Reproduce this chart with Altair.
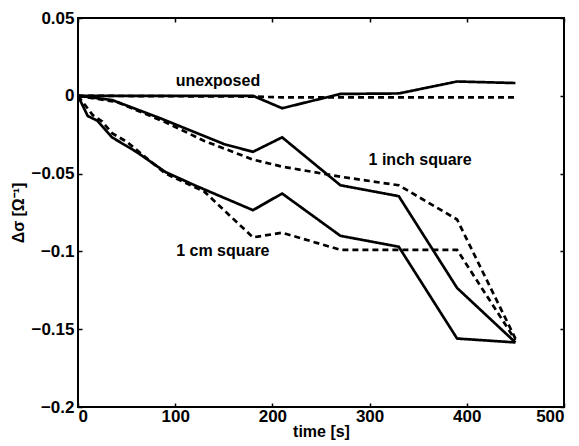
import altair as alt
import pandas as pd

# ---- data ----
t_unexp_solid = [0, 180, 210, 270, 330, 390, 450]
v_unexp_solid = [0.0, 0.0, -0.008, 0.0012, 0.0015, 0.0092, 0.0082]

t_unexp_dash = [0, 180, 210, 270, 330, 390, 450]
v_unexp_dash = [0.0, -0.0005, -0.001, -0.001, -0.001, -0.001, -0.001]

t_inch_solid = [0, 35, 85, 150, 180, 210, 270, 330, 390, 450]
v_inch_solid = [0.0, -0.0027, -0.0145, -0.031, -0.036, -0.0267, -0.0575, -0.0645, -0.1235, -0.1585]

t_inch_dash = [0, 40, 90, 130, 180, 210, 270, 330, 390, 450]
v_inch_dash = [0.0, -0.004, -0.017, -0.029, -0.041, -0.0455, -0.052, -0.0575, -0.0795, -0.1560]

t_cm_solid = [0, 10, 20, 35, 60, 90, 120, 180, 210, 270, 330, 390, 450]
v_cm_solid = [0.0, -0.013, -0.016, -0.0267, -0.036, -0.049, -0.0575, -0.0735, -0.0628, -0.090, -0.097, -0.156, -0.1585]

t_cm_dash = [0, 15, 25, 35, 50, 90, 130, 180, 210, 270, 330, 390, 450]
v_cm_dash = [0.0, -0.0123, -0.0166, -0.024, -0.0295, -0.050, -0.0616, -0.091, -0.088, -0.099, -0.099, -0.099, -0.157]

label_text = ["unexposed", "1 inch square", "1 cm square"]
label_t = [144, 352, 149]
label_v = [0.0092, -0.0413, -0.0995]

x_ticks = [0, 100, 200, 300, 400, 500]
y_ticks = [0.05, 0, -0.05, -0.1, -0.15, -0.2]

# ---- build table ----
series = [
    ("unexposed solid", "solid", t_unexp_solid, v_unexp_solid),
    ("unexposed dashed", "dashed", t_unexp_dash, v_unexp_dash),
    ("inch solid", "solid", t_inch_solid, v_inch_solid),
    ("inch dashed", "dashed", t_inch_dash, v_inch_dash),
    ("cm solid", "solid", t_cm_solid, v_cm_solid),
    ("cm dashed", "dashed", t_cm_dash, v_cm_dash),
]
rows = []
for name, style, ts, vs in series:
    for i, (t, v) in enumerate(zip(ts, vs)):
        rows.append({"series": name, "style": style, "t": t, "v": v, "idx": i})
df = pd.DataFrame(rows)
labels_df = pd.DataFrame({"label": label_text, "t": label_t, "v": label_v})

FONT = "Liberation Sans"
xscale = alt.Scale(domain=[0, 500], nice=False, zero=False)
yscale = alt.Scale(domain=[-0.2, 0.05], nice=False, zero=False)

TICK = 4
tick_common = dict(
    offset=-TICK, tickSize=TICK, tickWidth=1.5, tickColor="black", domain=False, grid=False,
    zindex=1,
    labelFont=FONT, labelFontSize=17, labelFontWeight="bold", labelColor="black",
    titleFont=FONT, titleFontSize=16, titleFontWeight="bold", titleColor="black",
)

lines = alt.Chart(df).mark_line(color="black", strokeWidth=2.7).encode(
    x=alt.X("t:Q", scale=xscale,
            axis=alt.Axis(orient="bottom", values=x_ticks, format="d", title="time [s]",
                          labelPadding=1, titlePadding=-1, **tick_common)),
    y=alt.Y("v:Q", scale=yscale,
            axis=alt.Axis(orient="left", values=y_ticks, format="~g", title="Δσ [Ω⁻¹]",
                          labelPadding=4, titlePadding=4, **tick_common)),
    detail="series:N",
    order="idx:Q",
    strokeDash=alt.StrokeDash("style:N",
                              scale=alt.Scale(domain=["solid", "dashed"], range=[[1, 0], [6, 4]]),
                              legend=None),
)

frame_axes = alt.Chart(df).mark_point(opacity=0).encode(
    x=alt.X("t:Q", scale=xscale,
            axis=alt.Axis(orient="top", values=x_ticks, labels=False, title=None,
                          offset=-TICK, tickSize=TICK, tickWidth=1.5, tickColor="black",
                          domain=False, grid=False, zindex=1)),
    y=alt.Y("v:Q", scale=yscale,
            axis=alt.Axis(orient="right", values=y_ticks, labels=False, title=None,
                          offset=-TICK, tickSize=TICK, tickWidth=1.5, tickColor="black",
                          domain=False, grid=False, zindex=1)),
)

texts = alt.Chart(labels_df).mark_text(
    font=FONT, fontSize=16, fontWeight="bold", color="black", baseline="middle", align="center"
).encode(
    x=alt.X("t:Q", scale=xscale, axis=None),
    y=alt.Y("v:Q", scale=yscale, axis=None),
    text="label:N",
)

chart = alt.layer(lines, frame_axes, texts).resolve_axis(
    x="independent", y="independent"
).properties(
    width=486, height=389,
    padding={"left": 70, "top": 10, "right": 5, "bottom": 38},
    autosize="none",
).configure_view(stroke="black", strokeWidth=2)

chart.save("out.html", embed_options={"renderer": "svg", "actions": False})
